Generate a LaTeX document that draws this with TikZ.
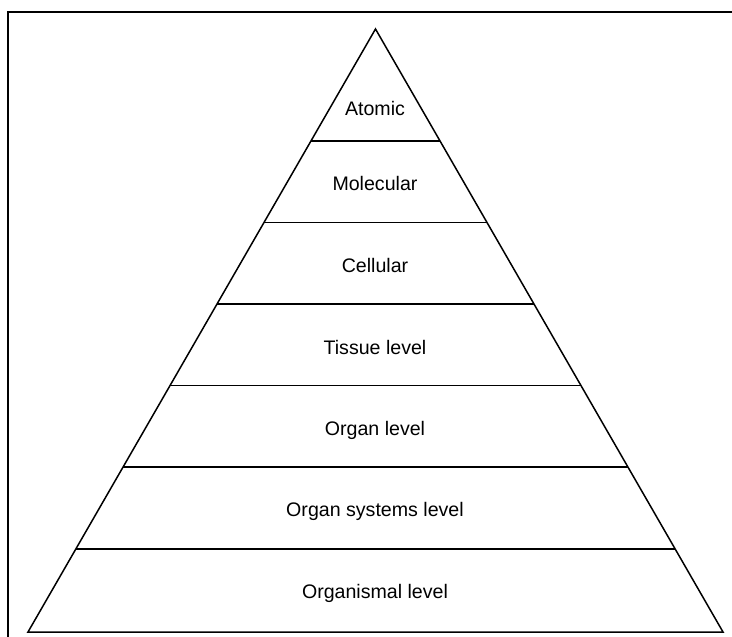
\documentclass[tikz,border=0pt]{standalone}
\usepackage{fontspec}
\setmainfont{Liberation Sans}
\usetikzlibrary{calc}
\begin{document}
\begin{tikzpicture}[x=1pt,y=-1pt,
  edge/.style={line width=1.5pt,black},
  frame/.style={line width=2pt,black},
  lvl/.style={font=\fontsize{19.6}{23}\selectfont,inner sep=0pt,anchor=base}]
\useasboundingbox (0,0) rectangle (732,637);
\draw[frame] (8,660) -- (8,12) -- (760,12);
\coordinate (apex) at (375.5,29);
\coordinate (bl) at (28,632);
\coordinate (br) at (723,632);
\draw[edge,line join=miter] (apex) -- (bl) -- (br) -- cycle;
\foreach \y in {141,222.5,304,385.5,467,549}{
  \pgfmathsetmacro{\t}{(\y-29)/603}
  \draw[edge] ($(apex)!\t!(bl)$) -- ($(apex)!\t!(br)$);
}
\node[lvl] (atomic) at (375,115) {Atomic};
\node[lvl] (molecular) at (375,190) {Molecular};
\node[lvl] (cellular) at (375,272) {Cellular};
\node[lvl] (tissue) at (375,354) {Tissue level};
\node[lvl] (organ) at (375,435) {Organ level};
\node[lvl] (systems) at (375,516) {Organ systems level};
\node[lvl] (organismal) at (375,598) {Organismal level};
\end{tikzpicture}
\end{document}
